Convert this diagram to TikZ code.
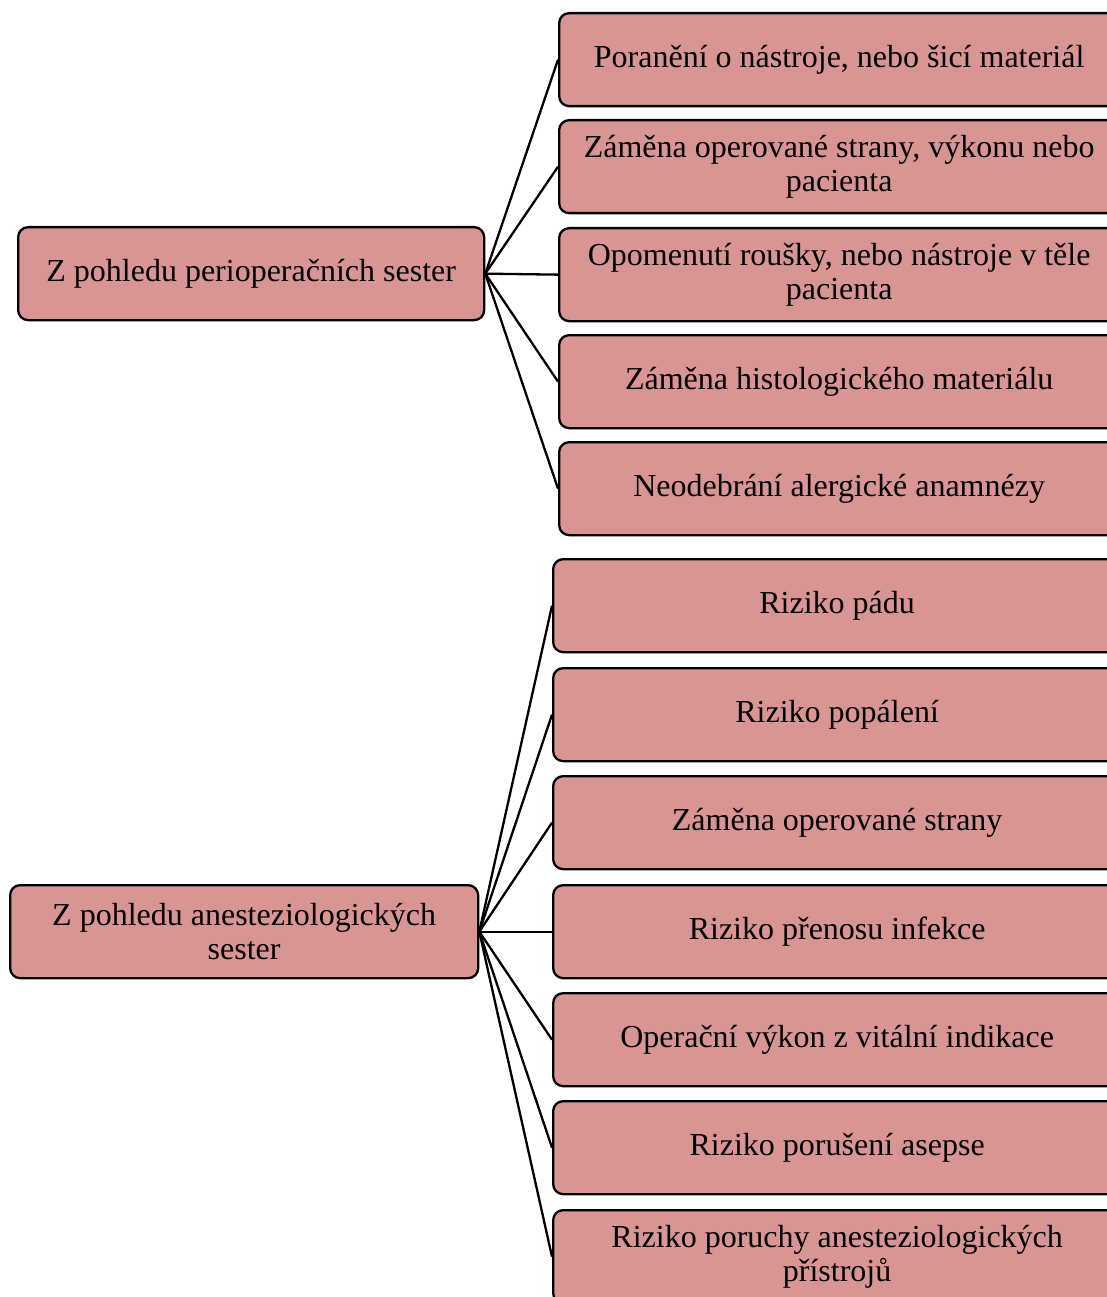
\documentclass[tikz,border=0pt]{standalone}
\usepackage{fontspec}
\setmainfont{Liberation Serif}
\definecolor{boxred}{HTML}{D99594}
\begin{document}
\begin{tikzpicture}[x=1pt,y=1pt,
  box/.style={draw=black, line width=2.3pt, fill=boxred, rounded corners=10pt,
    align=center, inner sep=0pt, anchor=north west,
    font=\fontsize{32}{34}\selectfont},
  root/.style={box, minimum width=466pt, minimum height=93pt},
  leafA/.style={box, minimum width=560pt, minimum height=93pt},
  leafB/.style={box, minimum width=568pt, minimum height=93pt},
  link/.style={line width=2.3pt}]
\useasboundingbox (0,0) rectangle (1107,-1297);
\clip (0,0) rectangle (1107,-1297);

% first group
\node[root] (pA) at (17,-226) {Z pohledu perioperačních sester};
\node[leafA] (a1) at (558,-12)  {Poranění o nástroje, nebo šicí materiál};
\node[leafA] (a2) at (558,-119) {Záměna operované strany, výkonu nebo\\pacienta};
\node[leafA] (a3) at (558,-227) {Opomenutí roušky, nebo nástroje v těle\\pacienta};
\node[leafA] (a4) at (558,-334) {Záměna histologického materiálu};
\node[leafA] (a5) at (558,-441) {Neodebrání alergické anamnézy};
\foreach \n in {a1,a2,a3,a4,a5} \draw[link] (pA.east) -- (\n.west);

% second group
\node[box, minimum width=468pt, minimum height=93pt] (pB) at (9,-884) {Z pohledu anesteziologických\\sester};
\node[leafB] (b1) at (552,-558)  {Riziko pádu};
\node[leafB] (b2) at (552,-667)  {Riziko popálení};
\node[leafB] (b3) at (552,-775)  {Záměna operované strany};
\node[leafB] (b4) at (552,-884)  {Riziko přenosu infekce};
\node[leafB] (b5) at (552,-992)  {Operační výkon z vitální indikace};
\node[leafB] (b6) at (552,-1100) {Riziko porušení asepse};
\node[leafB] (b7) at (552,-1209) {Riziko poruchy anesteziologických\\přístrojů};
\foreach \n in {b1,b2,b3,b4,b5,b6,b7} \draw[link] (pB.east) -- (\n.west);
\end{tikzpicture}
\end{document}
